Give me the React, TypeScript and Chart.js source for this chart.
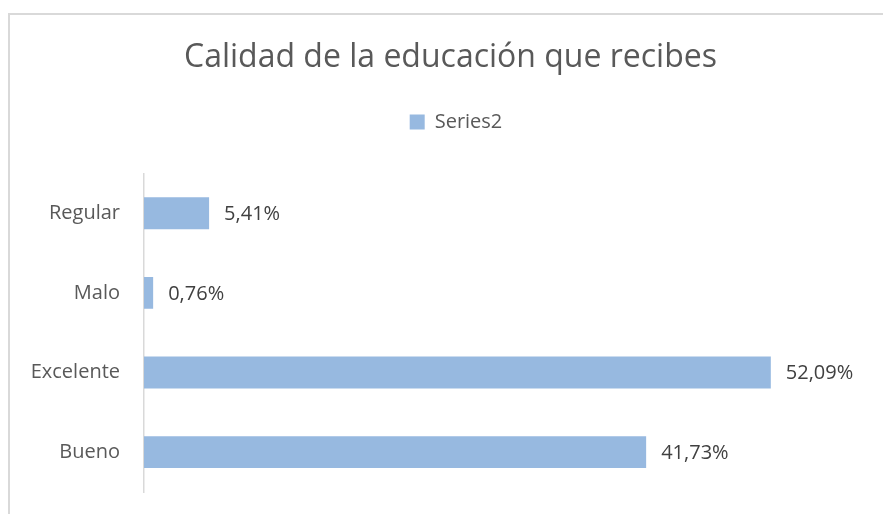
import React, { useEffect, useRef } from "react";
import { Chart, registerables } from "chart.js";

Chart.register(...registerables);

const chartTitle = "Calidad de la educación que recibes";
const seriesName = "Series2";
const categories = ["Bueno", "Excelente", "Malo", "Regular"];
const values = [41.73, 52.09, 0.76, 5.41];
const axisMin = 0;
const axisMax = 60;

const FONT = "'Open Sans', 'Noto Sans', sans-serif";

const fmt = (v: number) => v.toFixed(2).replace(".", ",") + "%";

const labelPlugin = {
  id: "barLabels",
  afterDatasetsDraw(chart: any) {
    const ctx = chart.ctx;
    const meta = chart.getDatasetMeta(0);
    ctx.save();
    ctx.font = `20px ${FONT}`;
    ctx.fillStyle = "#404040";
    ctx.textAlign = "left";
    ctx.textBaseline = "middle";
    meta.data.forEach((el: any, i: number) => {
      const v = chart.data.datasets[0].data[i] as number;
      ctx.fillText(fmt(v), el.x + 15, el.y + 1);
    });
    ctx.restore();
  },
};

const headerShift = {
  id: "headerShift",
  afterLayout(chart: any) {
    const tb = chart.titleBlock;
    if (tb) {
      tb.left += 17.5;
      tb.right += 17.5;
    }
    const lg = chart.legend;
    if (lg) {
      lg.left += 23;
      lg.right += 23;
    }
  },
};

export default function App() {
  const ref = useRef<HTMLCanvasElement | null>(null);

  useEffect(() => {
    if (!ref.current) return;
    Chart.defaults.font.family = FONT;
    const chart = new Chart(ref.current, {
      type: "bar",
      data: {
        labels: categories,
        datasets: [
          {
            label: seriesName,
            data: values,
            backgroundColor: "#97B9E0",
            borderWidth: 0,
            barPercentage: 0.4,
            categoryPercentage: 1,
          },
        ],
      },
      options: {
        indexAxis: "y",
        responsive: false,
        animation: false,
        devicePixelRatio: 1,
        layout: { padding: { top: 0, left: 0, right: 17, bottom: 22 } },
        plugins: {
          title: {
            display: true,
            text: chartTitle,
            color: "#595959",
            font: { family: FONT, size: 32, weight: "normal" },
            padding: { top: 39, bottom: 7 },
          },
          legend: {
            display: true,
            position: "top",
            labels: {
              boxWidth: 15,
              boxHeight: 15,
              color: "#595959",
              font: { family: FONT, size: 20 },
              padding: 27.5,
            },
          },
          tooltip: { enabled: false },
        },
        scales: {
          x: {
            position: "top",
            min: axisMin,
            max: axisMax,
            grid: { display: false, drawTicks: false },
            border: { display: false },
            ticks: { display: false },
            afterFit(s: any) {
              s.height = 31.5;
              s.paddingLeft = 0;
              s.paddingRight = 0;
            },
          },
          y: {
            reverse: true,
            grid: { display: false, drawTicks: false },
            border: { display: true, color: "#d9d9d9", width: 1.5 },
            ticks: {
              color: "#595959",
              font: { family: FONT, size: 20 },
              padding: 24,
            },
            afterFit(s: any) {
              s.width = 144;
              s.paddingTop = 0;
              s.paddingBottom = 0;
            },
          },
        },
      },
      plugins: [labelPlugin, headerShift],
    } as any);
    return () => chart.destroy();
  }, []);

  return (
    <div
      style={{
        position: "fixed",
        left: 0,
        top: 0,
        width: 883,
        height: 514,
        overflow: "hidden",
        background: "#ffffff",
      }}
    >
      <div
        style={{
          position: "absolute",
          left: 8,
          top: 13,
          width: 2000,
          height: 2000,
          borderLeft: "2px solid #d9d9d9",
          borderTop: "2px solid #d9d9d9",
        }}
      />
      <canvas
        ref={ref}
        width={883}
        height={514}
        style={{ position: "absolute", left: 0, top: 0, width: 883, height: 514 }}
      />
    </div>
  );
}
